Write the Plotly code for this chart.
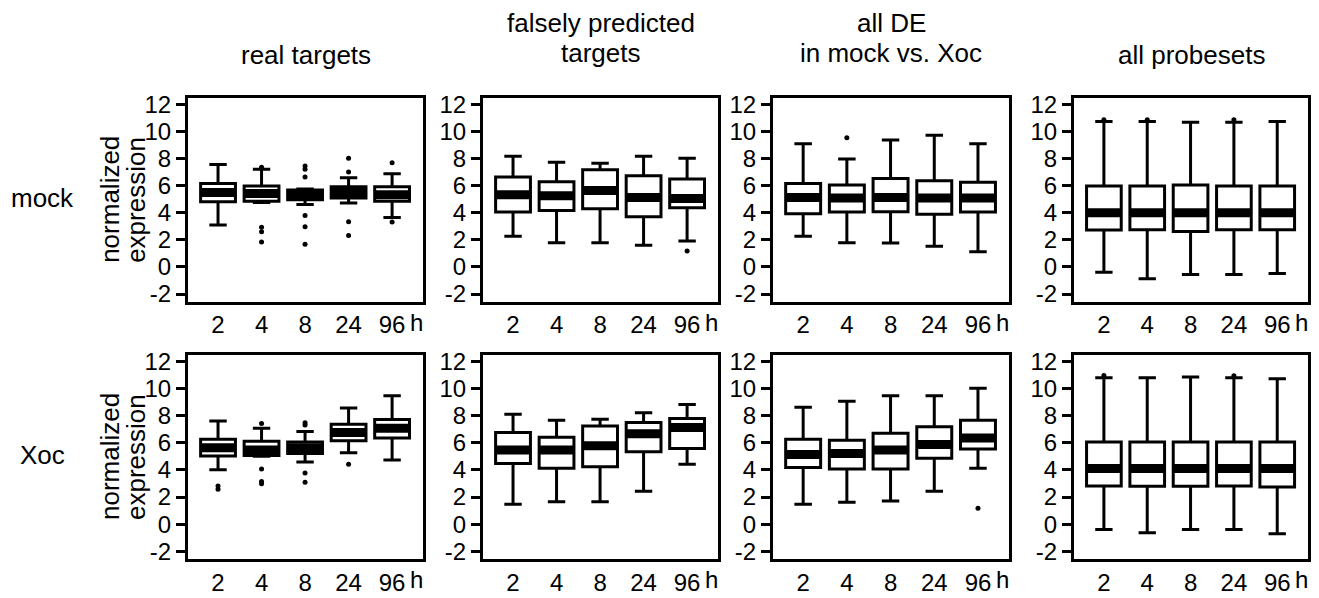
import plotly.graph_objects as go

# page body has an 8px margin; work in screen pixels and subtract it
OFF = 8
SW, SH = 1319, 598
W, H = SW - OFF, SH - OFF

times = ["2", "4", "8", "24", "96"]
xpos = [0, 1, 2, 3, 4]
yticks = [-2, 0, 2, 4, 6, 8, 10, 12]
yticklabels = ["-2", "0", "2", "4", "6", "8", "10", "12"]

col_titles = [["real targets"], ["falsely predicted", "targets"], ["all DE", "in mock vs. Xoc"], ["all probesets"]]
row_titles = ["mock", "Xoc"]
ytitle_lines = ["normalized", "expression"]

# ---- box statistics: lists over the 5 time points ----
# mock row
mock_real_q1 = [4.80, 4.84, 4.96, 5.08, 4.84]
mock_real_med = [5.49, 5.42, 5.32, 5.50, 5.32]
mock_real_q3 = [6.16, 5.97, 5.68, 5.92, 5.92]
mock_real_lo = [3.09, 4.75, 4.60, 4.72, 3.64]
mock_real_hi = [7.56, 7.20, 5.75, 6.57, 6.88]
mock_real_out_x = [1, 1, 1, 1, 2, 2, 2, 2, 2, 2, 3, 3, 3, 3, 4, 4]
mock_real_out_y = [7.36, 2.92, 2.60, 1.84, 7.44, 7.20, 6.64, 3.80, 2.97, 1.67, 8.01, 7.00, 3.33, 2.32, 7.68, 3.32]

mock_false_q1 = [4.05, 4.17, 4.29, 3.71, 4.36]
mock_false_med = [5.32, 5.25, 5.64, 5.13, 5.04]
mock_false_q3 = [6.64, 6.28, 7.17, 6.72, 6.48]
mock_false_lo = [2.27, 1.79, 1.79, 1.60, 1.91]
mock_false_hi = [8.16, 7.73, 7.65, 8.16, 8.01]
mock_false_out_x = [4]
mock_false_out_y = [1.17]

mock_de_q1 = [3.93, 4.05, 4.07, 3.88, 4.05]
mock_de_med = [5.13, 5.08, 5.13, 5.08, 5.08]
mock_de_q3 = [6.16, 6.04, 6.52, 6.36, 6.24]
mock_de_lo = [2.27, 1.79, 1.77, 1.53, 1.12]
mock_de_hi = [9.09, 7.97, 9.36, 9.72, 9.09]
mock_de_out_x = [1]
mock_de_out_y = [9.53]

mock_all_q1 = [2.73, 2.75, 2.61, 2.75, 2.75]
mock_all_med = [4.00, 4.00, 4.00, 4.00, 4.00]
mock_all_q3 = [5.97, 5.97, 6.04, 5.97, 5.97]
mock_all_lo = [-0.39, -0.87, -0.56, -0.56, -0.49]
mock_all_hi = [10.73, 10.73, 10.68, 10.68, 10.73]
mock_all_out_x = [0, 1, 3]
mock_all_out_y = [10.85, 10.85, 10.85]

# Xoc row
xoc_real_q1 = [5.02, 5.07, 5.22, 6.15, 6.35]
xoc_real_med = [5.63, 5.46, 5.63, 6.76, 7.07]
xoc_real_q3 = [6.27, 6.11, 6.06, 7.36, 7.72]
xoc_real_lo = [4.01, 5.00, 4.59, 5.26, 4.74]
xoc_real_hi = [7.60, 7.07, 6.83, 8.56, 9.47]
xoc_real_out_x = [0, 0, 1, 1, 1, 1, 2, 2, 2, 2, 3]
xoc_real_out_y = [2.81, 2.57, 7.43, 4.06, 3.15, 2.98, 7.48, 7.31, 3.77, 3.10, 4.42]

xoc_false_q1 = [4.47, 4.13, 4.23, 5.34, 5.58]
xoc_false_med = [5.46, 5.46, 5.79, 6.66, 7.12]
xoc_false_q3 = [6.76, 6.40, 7.24, 7.50, 7.79]
xoc_false_lo = [1.46, 1.66, 1.66, 2.43, 4.42]
xoc_false_hi = [8.10, 7.67, 7.74, 8.22, 8.82]
xoc_false_out_x = []
xoc_false_out_y = []

xoc_de_q1 = [4.18, 4.06, 4.06, 4.86, 5.55]
xoc_de_med = [5.14, 5.22, 5.46, 5.87, 6.35]
xoc_de_q3 = [6.27, 6.18, 6.71, 7.19, 7.67]
xoc_de_lo = [1.46, 1.61, 1.70, 2.43, 4.13]
xoc_de_hi = [8.63, 9.07, 9.47, 9.47, 10.03]
xoc_de_out_x = [4]
xoc_de_out_y = [1.17]

xoc_all_q1 = [2.81, 2.79, 2.79, 2.81, 2.74]
xoc_all_med = [4.11, 4.11, 4.11, 4.11, 4.11]
xoc_all_q3 = [6.06, 6.06, 6.06, 6.06, 6.06]
xoc_all_lo = [-0.39, -0.63, -0.39, -0.39, -0.70]
xoc_all_hi = [10.80, 10.80, 10.85, 10.80, 10.72]
xoc_all_out_x = [0, 3]
xoc_all_out_y = [10.97, 10.95]

panels = [
    [
        (mock_real_q1, mock_real_med, mock_real_q3, mock_real_lo, mock_real_hi, mock_real_out_x, mock_real_out_y),
        (mock_false_q1, mock_false_med, mock_false_q3, mock_false_lo, mock_false_hi, mock_false_out_x, mock_false_out_y),
        (mock_de_q1, mock_de_med, mock_de_q3, mock_de_lo, mock_de_hi, mock_de_out_x, mock_de_out_y),
        (mock_all_q1, mock_all_med, mock_all_q3, mock_all_lo, mock_all_hi, mock_all_out_x, mock_all_out_y),
    ],
    [
        (xoc_real_q1, xoc_real_med, xoc_real_q3, xoc_real_lo, xoc_real_hi, xoc_real_out_x, xoc_real_out_y),
        (xoc_false_q1, xoc_false_med, xoc_false_q3, xoc_false_lo, xoc_false_hi, xoc_false_out_x, xoc_false_out_y),
        (xoc_de_q1, xoc_de_med, xoc_de_q3, xoc_de_lo, xoc_de_hi, xoc_de_out_x, xoc_de_out_y),
        (xoc_all_q1, xoc_all_med, xoc_all_q3, xoc_all_lo, xoc_all_hi, xoc_all_out_x, xoc_all_out_y),
    ],
]

# ---- layout geometry (screen pixels) ----
col_px = [(188, 423), (483, 718), (773, 1009), (1074, 1308)]
row_px = [(93, 301), (356, 564)]
XR = [-0.69, 4.71]
YR = [-2.55, 12.45]


def fx(px):
    return (px - OFF) / W


def fy(py):
    return 1 - (py - OFF) / H


TICK_FONT = dict(family="Liberation Sans, Arial, sans-serif", size=24, color="black")
XTICK_FONT = dict(family="Liberation Sans, Arial, sans-serif", size=24, color="black")
TEXT_FONT = dict(family="Liberation Sans, Arial, sans-serif", size=26, color="black")

fig = go.Figure()
layout = dict(
    width=W, height=H, margin=dict(l=0, r=0, t=0, b=0),
    paper_bgcolor="white", plot_bgcolor="white", showlegend=False,
    annotations=[],
)

idx = 0
for r in range(2):
    for c in range(4):
        idx += 1
        xa = "x" if idx == 1 else f"x{idx}"
        ya = "y" if idx == 1 else f"y{idx}"
        q1, med, q3, lo, hi, ox, oy = panels[r][c]
        fig.add_trace(go.Box(
            x=xpos, q1=q1, median=med, q3=q3, lowerfence=lo, upperfence=hi,
            width=0.8, whiskerwidth=0.5, boxpoints=False,
            fillcolor="white", line=dict(color="black", width=3),
            xaxis=xa, yaxis=ya, hoverinfo="skip",
        ))
        fig.add_trace(go.Scatter(
            x=xpos, y=med, mode="markers",
            marker=dict(symbol="line-ew", size=24.5, color="black",
                        line=dict(color="black", width=9)),
            xaxis=xa, yaxis=ya, hoverinfo="skip",
        ))
        if len(ox):
            fig.add_trace(go.Scatter(
                x=ox, y=oy, mode="markers",
                marker=dict(symbol="circle", size=5, color="black"),
                xaxis=xa, yaxis=ya, hoverinfo="skip",
            ))
        x0, x1 = col_px[c]
        y0, y1 = row_px[r]
        xkey = "xaxis" if idx == 1 else f"xaxis{idx}"
        ykey = "yaxis" if idx == 1 else f"yaxis{idx}"
        layout[xkey] = dict(
            domain=[fx(x0), fx(x1)], range=XR, anchor=ya,
            tickmode="array", tickvals=xpos, ticktext=times,
            ticks="", showline=True, mirror=True, linecolor="black", linewidth=3,
            showgrid=False, zeroline=False, tickfont=XTICK_FONT, fixedrange=True,
        )
        layout[ykey] = dict(
            domain=[fy(y1), fy(y0)], range=YR, anchor=xa,
            tickmode="array", tickvals=yticks, ticktext=yticklabels,
            ticks="outside", ticklen=9, tickwidth=2.5, tickcolor="black",
            showline=True, mirror=True, linecolor="black", linewidth=3,
            showgrid=False, zeroline=False, tickfont=TICK_FONT, fixedrange=True,
        )
        # "h" unit after the last tick label
        layout["annotations"].append(dict(
            text="h", xref=xa, yref="paper", x=4.55, y=fy(y1 + 21),
            xanchor="center", yanchor="middle", showarrow=False, font=XTICK_FONT,
        ))

# column titles (one annotation per line)
line_y = {1: [49], 2: [16, 47]}
for c in range(4):
    x0, x1 = col_px[c]
    lines = col_titles[c]
    for t, py in zip(lines, line_y[len(lines)]):
        layout["annotations"].append(dict(
            text=t, xref="paper", yref="paper",
            x=fx((x0 + x1) / 2), y=fy(py),
            xanchor="center", yanchor="middle", showarrow=False, font=TEXT_FONT,
        ))

# row titles and y-axis titles
for r in range(2):
    y0, y1 = row_px[r]
    yc = fy((y0 + y1) / 2 - 2)
    layout["annotations"].append(dict(
        text=row_titles[r], xref="paper", yref="paper", x=fx(42), y=yc,
        xanchor="center", yanchor="middle", showarrow=False, font=TEXT_FONT,
    ))
    for t, px in zip(ytitle_lines, [110, 136]):
        layout["annotations"].append(dict(
            text=t, xref="paper", yref="paper", x=fx(px), y=fy((y0 + y1) / 2),
            xanchor="center", yanchor="middle", showarrow=False, textangle=-90,
            font=TEXT_FONT,
        ))

fig.update_layout(**layout)
fig.write_html("out.html")
